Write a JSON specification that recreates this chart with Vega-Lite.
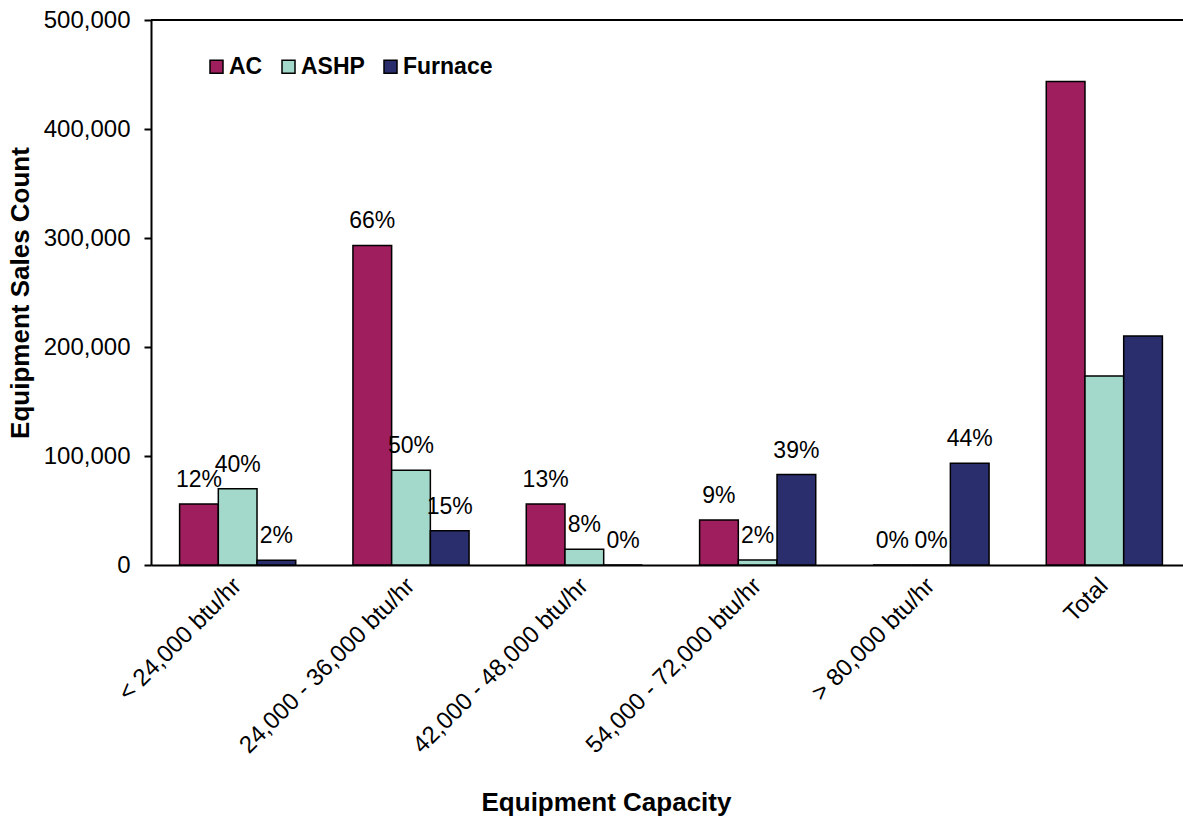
{
  "$schema": "https://vega.github.io/schema/vega-lite/v6.json",
  "autosize": {"type": "none"},
  "padding": {"left": 151, "top": 20, "right": 0, "bottom": 254},
  "width": 1032,
  "height": 545,
  "background": "white",
  "config": {"view": {"stroke": null}, "font": "Liberation Sans"},
  "data": {
    "values": [
      {"capacity": "< 24,000 btu/hr", "equipment": "AC", "count": 56000, "pct": "12%"},
      {"capacity": "< 24,000 btu/hr", "equipment": "ASHP", "count": 70000, "pct": "40%"},
      {"capacity": "< 24,000 btu/hr", "equipment": "Furnace", "count": 4300, "pct": "2%"},
      {"capacity": "24,000 - 36,000 btu/hr", "equipment": "AC", "count": 293200, "pct": "66%"},
      {"capacity": "24,000 - 36,000 btu/hr", "equipment": "ASHP", "count": 87000, "pct": "50%"},
      {"capacity": "24,000 - 36,000 btu/hr", "equipment": "Furnace", "count": 31500, "pct": "15%"},
      {"capacity": "42,000 - 48,000 btu/hr", "equipment": "AC", "count": 56000, "pct": "13%"},
      {"capacity": "42,000 - 48,000 btu/hr", "equipment": "ASHP", "count": 14400, "pct": "8%"},
      {"capacity": "42,000 - 48,000 btu/hr", "equipment": "Furnace", "count": 0, "pct": "0%"},
      {"capacity": "54,000 - 72,000 btu/hr", "equipment": "AC", "count": 41300, "pct": "9%"},
      {"capacity": "54,000 - 72,000 btu/hr", "equipment": "ASHP", "count": 4600, "pct": "2%"},
      {"capacity": "54,000 - 72,000 btu/hr", "equipment": "Furnace", "count": 83000, "pct": "39%"},
      {"capacity": "> 80,000 btu/hr", "equipment": "AC", "count": 0, "pct": "0%"},
      {"capacity": "> 80,000 btu/hr", "equipment": "ASHP", "count": 0, "pct": "0%"},
      {"capacity": "> 80,000 btu/hr", "equipment": "Furnace", "count": 93400, "pct": "44%"},
      {"capacity": "Total", "equipment": "AC", "count": 443500, "pct": null},
      {"capacity": "Total", "equipment": "ASHP", "count": 173500, "pct": null},
      {"capacity": "Total", "equipment": "Furnace", "count": 210000, "pct": null}
    ]
  },
  "layer": [
    {
      "mark": {"type": "rule", "color": "black", "strokeWidth": 2},
      "encoding": {"y": {"datum": 500000, "type": "quantitative"}}
    },
    {
      "mark": {"type": "bar", "stroke": "black", "strokeWidth": 1.5},
      "encoding": {
        "x": {
          "field": "capacity",
          "type": "nominal",
          "sort": ["< 24,000 btu/hr", "24,000 - 36,000 btu/hr", "42,000 - 48,000 btu/hr", "54,000 - 72,000 btu/hr", "> 80,000 btu/hr", "Total"],
          "scale": {"range": [0, 1040], "paddingInner": 0.33, "paddingOuter": 0.165},
          "axis": {
            "title": "Equipment Capacity",
            "titleFontSize": 26,
            "titleFontWeight": "bold",
            "titleColor": "black",
            "titleX": 455,
            "titleY": 245,
            "titleBaseline": "alphabetic",
            "labelAngle": -45,
            "labelAlign": "right",
            "labelBaseline": "middle",
            "labelPadding": 17,
            "labelFontSize": 24,
            "labelColor": "black",
            "labelLimit": 0,
            "ticks": false,
            "domainColor": "black",
            "domainWidth": 2
          }
        },
        "xOffset": {
          "field": "equipment",
          "type": "nominal",
          "sort": ["AC", "ASHP", "Furnace"],
          "scale": {"paddingInner": 0, "paddingOuter": 0}
        },
        "y": {
          "field": "count",
          "type": "quantitative",
          "scale": {"domain": [0, 500000], "nice": false},
          "axis": {
            "title": "Equipment Sales Count",
            "titleFontSize": 26,
            "titleFontWeight": "bold",
            "titleColor": "black",
            "titleX": -131,
            "titleBaseline": "middle",
            "values": [0, 100000, 200000, 300000, 400000, 500000],
            "format": ",d",
            "grid": false,
            "tickSize": 7,
            "tickWidth": 2,
            "tickColor": "black",
            "labelPadding": 14,
            "labelFontSize": 24,
            "labelColor": "black",
            "domainColor": "black",
            "domainWidth": 2
          }
        },
        "color": {
          "field": "equipment",
          "type": "nominal",
          "sort": ["AC", "ASHP", "Furnace"],
          "scale": {"domain": ["AC", "ASHP", "Furnace"], "range": ["#9E1E5E", "#A3D9CB", "#2A2E6C"]},
          "legend": {
            "orient": "none",
            "legendX": 54,
            "legendY": 35,
            "direction": "horizontal",
            "title": null,
            "symbolType": "square",
            "symbolSize": 169,
            "symbolStrokeColor": "black",
            "symbolStrokeWidth": 1.5,
            "symbolOpacity": 1,
            "labelFontSize": 23,
            "labelFontWeight": "bold",
            "labelColor": "black",
            "labelOffset": 1,
            "columnPadding": 14,
            "padding": 0
          }
        }
      }
    },
    {
      "transform": [{"filter": "datum.pct != null"}],
      "mark": {"type": "text", "fontSize": 23, "color": "black", "baseline": "alphabetic", "dy": -17},
      "encoding": {
        "x": {"field": "capacity", "type": "nominal", "sort": ["< 24,000 btu/hr", "24,000 - 36,000 btu/hr", "42,000 - 48,000 btu/hr", "54,000 - 72,000 btu/hr", "> 80,000 btu/hr", "Total"]},
        "xOffset": {"field": "equipment", "type": "nominal", "sort": ["AC", "ASHP", "Furnace"]},
        "y": {"field": "count", "type": "quantitative"},
        "text": {"field": "pct"}
      }
    }
  ]
}
